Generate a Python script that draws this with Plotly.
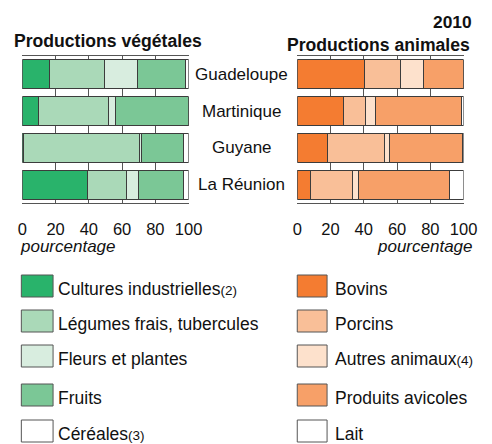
import plotly.graph_objects as go

W, H = 492, 444

regions = ["Guadeloupe", "Martinique", "Guyane", "La Réunion"]

veg_names = ["Cultures industrielles", "Légumes frais, tubercules", "Fleurs et plantes", "Fruits", "Céréales"]
veg_notes = ["(2)", "", "", "", "(3)"]
veg_colors = ["#29b36b", "#aad9b8", "#d8eddf", "#7bc796", "#ffffff"]
veg_values = [
    [16.4, 9.7, 1.0, 39.0],
    [32.8, 42.0, 69.5, 23.7],
    [20.3, 4.3, 0.9, 7.4],
    [28.4, 44.0, 25.5, 26.8],
    [2.1, 0.0, 3.1, 3.1],
]

ani_names = ["Bovins", "Porcins", "Autres animaux", "Produits avicoles", "Lait"]
ani_notes = ["", "", "(4)", "", ""]
ani_colors = ["#f47c31", "#f9bf98", "#fde1cc", "#f7a068", "#ffffff"]
ani_values = [
    [40.2, 27.6, 18.3, 7.9],
    [21.8, 13.5, 34.4, 25.1],
    [13.9, 5.8, 2.5, 3.9],
    [24.1, 51.7, 44.2, 54.4],
    [0.0, 1.4, 0.6, 8.7],
]

x_ticks = [0, 20, 40, 60, 80, 100]

FONT = "Liberation Sans, Arial, sans-serif"
OUT = "#3c3c3c"
INK = "#111111"

fig = go.Figure()
for name, col, vals in zip(veg_names, veg_colors, veg_values):
    fig.add_trace(go.Bar(y=regions, x=vals, orientation="h", name=name,
                         marker=dict(color=col, line=dict(color=OUT, width=1)),
                         xaxis="x", yaxis="y", showlegend=False, hoverinfo="skip"))
for name, col, vals in zip(ani_names, ani_colors, ani_values):
    fig.add_trace(go.Bar(y=regions, x=vals, orientation="h", name=name,
                         marker=dict(color=col, line=dict(color=OUT, width=1)),
                         xaxis="x2", yaxis="y2", showlegend=False, hoverinfo="skip"))

def px(v):
    return v / W

def py(v):
    return 1 - v / H

ydom = [py(203), py(56)]
xcommon = dict(range=[0, 100], tickvals=x_ticks, ticktext=[str(t) for t in x_ticks],
               showgrid=True, gridcolor="#555555", gridwidth=1, zeroline=False,
               showline=True, linecolor="#555555", linewidth=1, mirror=True,
               ticks="", ticklabelstandoff=11,
               tickfont=dict(family=FONT, size=16.5, color=INK), fixedrange=True)
ycommon = dict(categoryorder="array", categoryarray=regions, autorange="reversed",
               showticklabels=False, ticks="", showgrid=False, zeroline=False,
               showline=False, domain=ydom, fixedrange=True)

fig.update_layout(
    width=W, height=H, margin=dict(l=0, r=0, t=0, b=0), autosize=False,
    paper_bgcolor="white", plot_bgcolor="white",
    barmode="stack", bargap=0.21,
    xaxis=dict(domain=[px(18), px(191)], anchor="y", **xcommon),
    yaxis=dict(anchor="x", **ycommon),
    xaxis2=dict(domain=[px(304), px(477)], anchor="y2", **xcommon),
    yaxis2=dict(anchor="x2", **ycommon),
    showlegend=False,
)

ann = []
for r in regions:
    ann.append(dict(x=px(246), xref="paper", y=r, yref="y", text=r, showarrow=False,
                    xanchor="center", yanchor="middle",
                    font=dict(family=FONT, size=17, color=INK)))

ann.append(dict(x=px(7), y=py(41), xref="paper", yref="paper", text="<b>Productions végétales</b>",
                showarrow=False, xanchor="left", yanchor="middle",
                font=dict(family=FONT, size=17.6, color=INK)))
ann.append(dict(x=px(486), y=py(44.5), xref="paper", yref="paper", text="<b>Productions animales</b>",
                showarrow=False, xanchor="right", yanchor="middle",
                font=dict(family=FONT, size=17.6, color=INK)))
ann.append(dict(x=px(488), y=py(21.5), xref="paper", yref="paper", text="<b>2010</b>",
                showarrow=False, xanchor="right", yanchor="middle",
                font=dict(family=FONT, size=17.4, color=INK)))
ann.append(dict(x=px(14), y=py(246), xref="paper", yref="paper", text="<i>pourcentage</i>",
                showarrow=False, xanchor="left", yanchor="middle",
                font=dict(family=FONT, size=17, color=INK)))
ann.append(dict(x=px(489), y=py(246), xref="paper", yref="paper", text="<i>pourcentage</i>",
                showarrow=False, xanchor="right", yanchor="middle",
                font=dict(family=FONT, size=17, color=INK)))

shapes = []
row_tops = [275, 310, 345, 384, 420]
sq_h = 22

def legend_col(names, notes, colors, sx0, sx1, tx):
    for i, (n, note, c) in enumerate(zip(names, notes, colors)):
        top = row_tops[i]
        shapes.append(dict(type="rect", xref="paper", yref="paper",
                           x0=px(sx0), x1=px(sx1), y0=py(top + sq_h), y1=py(top),
                           fillcolor=c, line=dict(color="#555555", width=1)))
        txt = n
        if note:
            txt += '<span style="font-size:13.5px">' + note + '</span>'
        ann.append(dict(x=px(tx), y=py(top + 13.5), xref="paper", yref="paper",
                        text=txt, showarrow=False, xanchor="left", yanchor="middle",
                        font=dict(family=FONT, size=17.5, color=INK)))

legend_col(veg_names, veg_notes, veg_colors, 17, 50, 53)
legend_col(ani_names, ani_notes, ani_colors, 304, 335, 341)

fig.update_layout(annotations=ann, shapes=shapes)

post = ("document.documentElement.style.overflow='hidden';"
        "document.body.style.overflow='hidden';"
        "document.body.style.margin='0';document.body.style.padding='0';"
        "var gd=document.getElementById('{plot_id}');"
        "gd.style.width='492px';gd.style.height='444px';"
        "Plotly.relayout(gd,{width:492,height:444});")
fig.write_html("out.html", config={"responsive": False, "displayModeBar": False},
               default_width="492px", default_height="444px", post_script=post)
